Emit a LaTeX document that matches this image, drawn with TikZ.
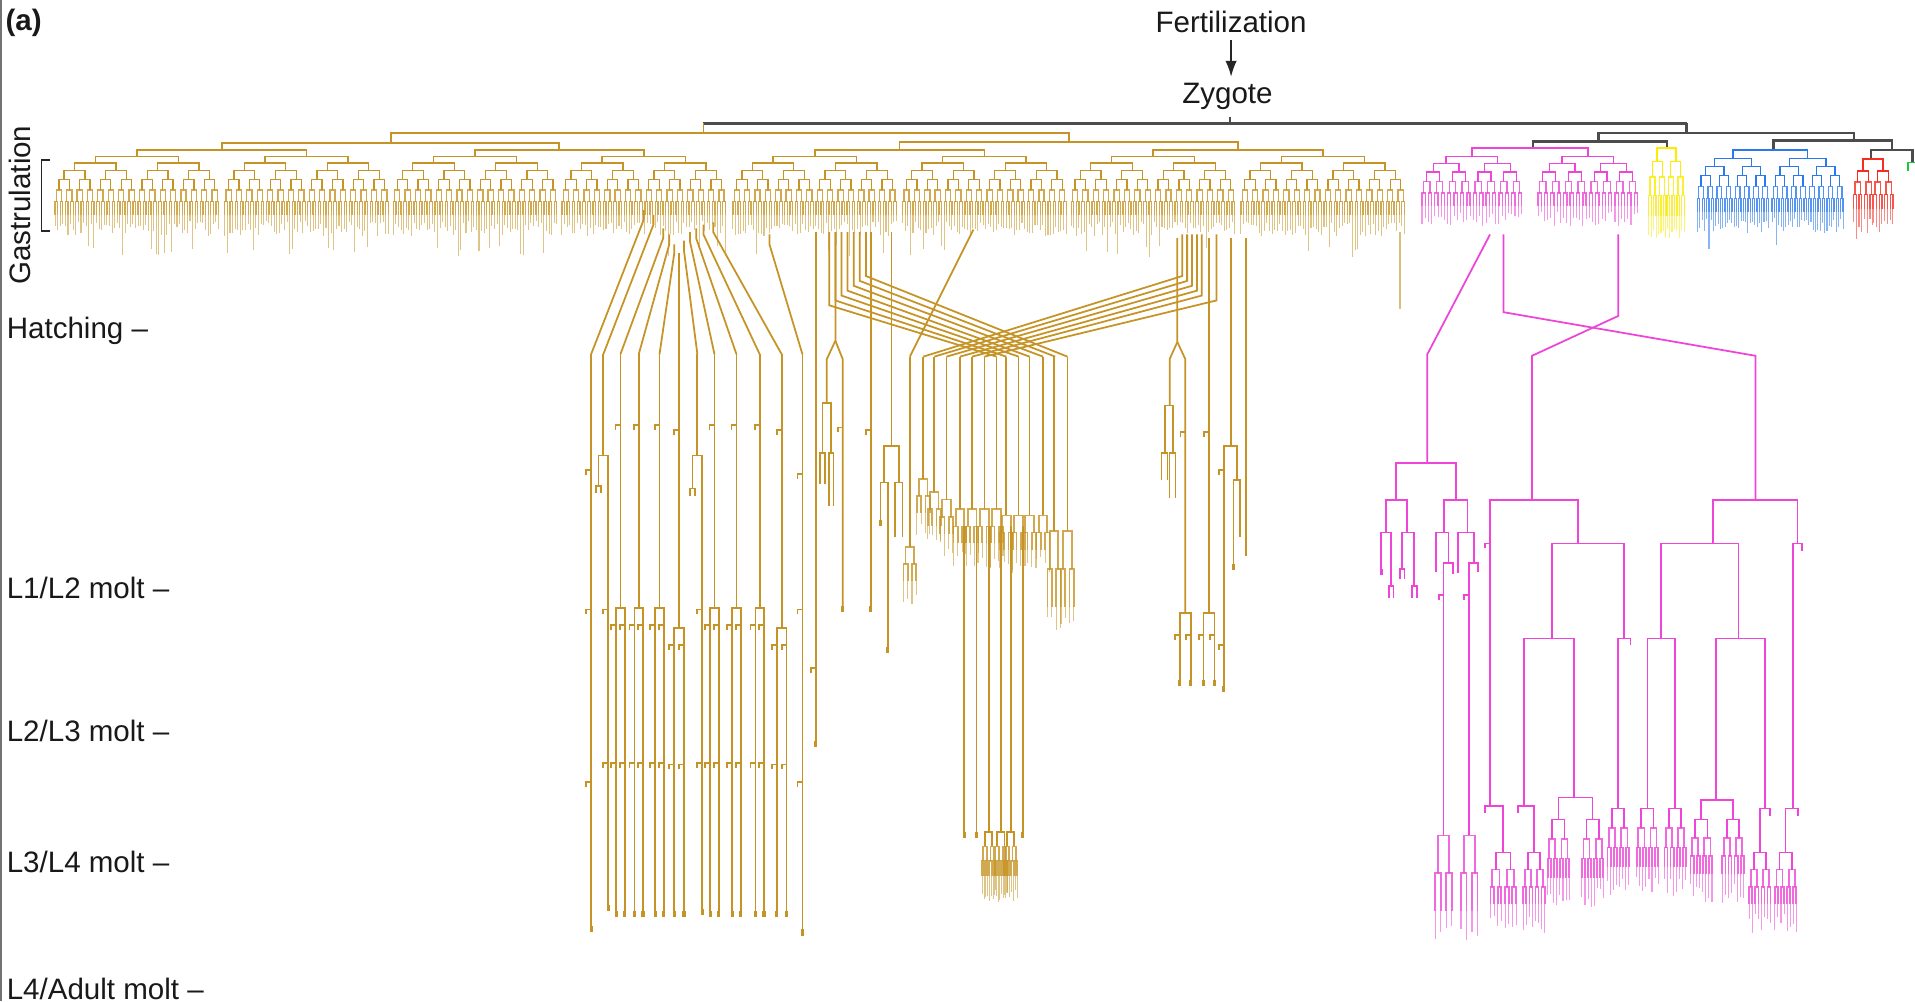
\documentclass[tikz,border=0pt]{standalone}
\usepackage{fontspec}
\setmainfont{Liberation Sans}
\usetikzlibrary{arrows.meta}

\definecolor{abgold}{RGB}{198,148,38}
\definecolor{mspink}{RGB}{238,68,216}
\definecolor{eyellow}{RGB}{252,236,0}
\definecolor{cblue}{RGB}{40,120,240}
\definecolor{dred}{RGB}{244,44,34}
\definecolor{pgreen}{RGB}{30,200,60}

\tikzset{
  emb/.style={line width=0.36pt},
  larva/.style={line width=0.5pt},
  leaf/.style={draw opacity=0.55, line width=0.3pt},
  founder/.style={draw=black!70, line width=0.7pt},
  stage/.style={inner sep=0pt, text=black!90, font=\fontsize{8.4}{10}\selectfont},
}

% leaves: \leafmin + \leafvar*rnd, a few long ones
\def\leafmin{5}\def\leafvar{12}\def\leafprob{0.08}\def\leaflong{24}
\def\gapgrow{1.15}

% x, y of bar, half width, depth, gap
\newcommand{\divtree}[5]{%
  \ifnum#4>0\relax
    \begingroup
      \ifnum#4<3 \def\lop{0.8}\else\def\lop{1}\fi
      \pgfmathsetmacro{\lxa}{#1-#3}%
      \pgfmathsetmacro{\lxb}{#1+#3}%
      \pgfmathsetmacro{\lyn}{#2+#5}%
      \pgfmathsetmacro{\lhw}{#3/2}%
      \pgfmathsetmacro{\lgp}{#5*\gapgrow}%
      \pgfmathtruncatemacro{\ldp}{#4-1}%
      \draw[draw opacity=\lop] (\lxa,\lyn) |- (\lxb,#2) -- (\lxb,\lyn);
      \edef\lnext{\noexpand\divtree{\lxa}{\lyn}{\lhw}{\ldp}{\lgp}%
                  \noexpand\divtree{\lxb}{\lyn}{\lhw}{\ldp}{\lgp}}%
      \lnext
    \endgroup
  \else
    \pgfmathsetmacro{\llen}{rnd<\leafprob ? \leaflong+10*rnd : \leafmin+\leafvar*rnd}%
    \draw[leaf] (#1,#2) -- ++(0,\llen);
  \fi}
\newcommand{\hook}[2]{\draw (#1-4,#2+4) |- (#1,#2);}
\newcommand{\tip}[2]{\fill (#1-1.3,#2) rectangle (#1+1.3,#2+5);}

\begin{document}
\begin{tikzpicture}[x=0.012213cm, y=-0.012213cm]
\pgfmathsetseed{11}
\fill[white] (0,0) rectangle (1568,820);
\useasboundingbox (0,0) rectangle (1568,820);
\draw[black!55, line width=0.6pt] (0.8,0) -- (0.8,820);

%labels
\node[stage, anchor=base west, font=\fontsize{8.4}{10}\selectfont\bfseries] (panel) at (4,25) {(a)};
\node[stage, inner sep=1.7pt, anchor=base] (fert) at (1008,27) {Fertilization};
\node[stage, inner sep=1.7pt, anchor=base] (zyg) at (1005,85) {Zygote};
\node[stage, rotate=90, anchor=base] (gastr) at (25,168) {Gastrulation};
\node[stage, anchor=base west] (hatch) at (5,277) {Hatching –};
\node[stage, anchor=base west] (molta) at (5,490) {L1/L2 molt –};
\node[stage, anchor=base west] (moltb) at (5,607) {L2/L3 molt –};
\node[stage, anchor=base west] (moltc) at (5,714) {L3/L4 molt –};
\node[stage, anchor=base west] (moltd) at (5,818) {L4/Adult molt –};
\draw[black!85, line width=0.5pt] (41,131) -- (34,131) -- (34,189) -- (41,189);

\draw[-{Latex[length=4.5pt,width=3.2pt]}, line width=0.5pt, black!85] (fert.south) -- (zyg.north -| fert.south);

%founder cells
\coordinate (p0) at (1007,101);
\draw[founder] (zyg.south -| p0) -- (p0);
\draw[founder] (576,101) -- (1381,101);
\draw[founder] (1381,101) -- (1381,109);
\draw[founder] (1309,116) |- (1518,109) -- (1518,115);
\draw[founder] (1255,121) |- (1365,116) -- (1365,121);
\draw[founder] (1452,123) |- (1549,115) -- (1549,123);
\draw[founder] (1532,130) |- (1566,123) -- (1566,133);

%AB embryo
\begin{scope}[abgold, larva]
\draw (576,101) -- (576,109);
\draw (320,117) |- (875,109) -- (875,116);
\draw (181.5,123) |- (458,117) -- (458,123);
\draw (736.5,123) |- (1013.5,116) -- (1013.5,123);
\draw (112,128) |- (251,123) -- (251,128);
\draw (389,128) |- (527,123) -- (527,128);
\draw (667,128) |- (806,123) -- (806,128);
\draw (944,128) |- (1083,123) -- (1083,128);
\end{scope}
\begin{scope}[abgold, emb]
\foreach \c in {112,251,389,527,667,806,944,1083} {\divtree{\c}{128}{34}{6}{5.5}}
\end{scope}

%MS, E, C, D, P4 embryo
\begin{scope}[mspink, emb]
\draw[larva] (1205,128) |- (1300,121) -- (1300,128);
\divtree{1205}{128}{21}{5}{6}
\divtree{1300}{128}{21}{5}{6}
\end{scope}
\begin{scope}[eyellow, emb]
\def\leafmin{10}\def\leafvar{8}\def\leafprob{0}
\draw[larva] (1357,132) |- (1372,121) -- (1372,132);
\divtree{1357}{132}{4}{3}{13}
\divtree{1372}{132}{4}{3}{13}
\end{scope}
\begin{scope}[cblue, emb]
\draw[larva] (1419,130) |- (1480,123) -- (1480,130);
\divtree{1419}{130}{15}{5}{6.5}
\divtree{1480}{130}{15}{5}{6.5}
\end{scope}
\begin{scope}[dred, emb]
\def\leafmin{8}\def\leafvar{12}
\draw[larva] (1525.5,140) |- (1542,130) -- (1542,140);
\divtree{1525.5}{140}{4.5}{3}{9}
\divtree{1542}{140}{4.5}{3}{9}
\end{scope}
\draw[pgreen, larva] (1562,140) |- (1572,133);

%larval AB, left bundle
\begin{scope}[abgold, larva]
\def\gapgrow{1}\def\leafprob{0}
\foreach \sx/\ky/\tx in {527/180/484, 535/184/494, 543/195/508, 548/200/523, 552/208/540, 556/215/556, 560/205/571, 565/198/585, 570/195/603, 576/192/622, 584/190/640, 630/200/657}
  \draw (\sx,\ky-8) -- (\sx,\ky) -- (\tx,290);
\foreach \t in {508,523,540,585,603,622} {
  \draw (\t,290) -- (\t,498);
  \hook{\t}{348}
  \draw (\t-3.5,750) |- (\t+3.5,498) -- (\t+3.5,750);
  \hook{\t-3.5}{512} \hook{\t+3.5}{512}
  \hook{\t-3.5}{625} \hook{\t+3.5}{625}
  \tip{\t-3.5}{746} \tip{\t+3.5}{746}
}
\foreach \t in {556,640} {
  \draw (\t,290) -- (\t,514);
  \hook{\t}{352}
  \draw (\t-4,750) |- (\t+4,514) -- (\t+4,750);
  \hook{\t-4}{528} \hook{\t+4}{528}
  \hook{\t-4}{626} \hook{\t+4}{626}
  \tip{\t-4}{746} \tip{\t+4}{746}
}
\draw (484,290) -- (484,762); \hook{484}{385} \hook{484}{499} \hook{484}{640} \tip{484}{758}
\draw (494,290) -- (494,373);
\draw (490,398) |- (498,373) -- (498,745);
\draw (488,404) |- (492,398) -- (492,404);
\hook{498}{499} \hook{498}{625} \tip{498}{741}
\draw (571,290) -- (571,373);
\draw (567,400) |- (575,373) -- (575,748);
\draw (565,406) |- (569,400) -- (569,406);
\hook{575}{499} \hook{575}{625} \tip{575}{744}
\draw (657,290) -- (657,765); \hook{657}{388} \hook{657}{499} \hook{657}{640} \tip{657}{761}

%larval AB, crossing bundle
\draw (668,190) -- (668,611); \hook{668}{547} \tip{668}{607}
\draw (684,190) -- (684,279) -- (677,294) -- (677,330);
\draw (684,279) -- (690,294) -- (690,500);
\draw (673.5,371) |- (680.5,330) -- (680.5,371);
\draw (671.5,396) |- (675.5,371) -- (675.5,396);
\draw (678.5,414) |- (682.5,371) -- (682.5,414);
\hook{690}{350} \tip{690}{496}
\draw (713,190) -- (713,500); \hook{713}{352} \tip{713}{496}
\draw (730,190) -- (730,365);
\draw (724,395) |- (736,365) -- (736,395);
\draw (721,430) |- (727,395) -- (727,534); \tip{721}{426} \tip{727}{530}
\draw (733,440) |- (739,395) -- (739,440);
\draw (797,188) -- (745,292);
\foreach \sx/\ky/\tx in {679/250/816, 684/246/824, 689/242/834, 694/238/843, 699/234/854, 704/230/864, 709/226/874}
  \draw (\sx,190) -- (\sx,\ky) -- (\tx,292);
\foreach \sx/\ky/\tx in {968/226/756, 972/230/765, 976/234/775, 980/238/786, 984/242/796, 996/246/806}
  \draw (\sx,192) -- (\sx,\ky) -- (\tx,292);
\def\leafmin{6}\def\leafvar{14}
\foreach \x/\f in {745/448, 756/392, 765/403, 775/409, 786/417, 796/417, 806/417, 816/417, 824/422, 834/422, 843/422, 854/422} {
  \draw (\x,292) -- (\x,\f);
  \divtree{\x}{\f}{3.5}{2}{14}
}
\foreach \x in {863,874} {\draw (\x,292) -- (\x,435); \divtree{\x}{435}{3.5}{2}{31}}
\foreach \x in {789.5,799.5,809.5,819.5,827.5,837.5} \draw (\x,431) -- (\x,681);
\tip{789.5}{681} \tip{799.5}{681} \tip{837.5}{681}
\def\leafmin{10}\def\leafvar{12}
\divtree{809.5}{681}{3}{3}{12}
\divtree{819.5}{681}{3}{3}{12}
\divtree{827.5}{681}{3}{3}{12}

%larval AB, right group
\draw (964,195) -- (964,280) -- (957.7,294) -- (957.7,332);
\draw (964,280) -- (970.5,294) -- (970.5,502);
\draw (953.6,371) |- (960.3,332) -- (960.3,371);
\draw (951,393) |- (956,371) -- (956,393);
\draw (957.5,408) |- (962.5,371) -- (962.5,408);
\hook{970.5}{354}
\draw (966,560) |- (975,502) -- (975,560);
\hook{966}{520} \hook{975}{520} \tip{966}{557} \tip{975}{557}
\draw (990,195) -- (990,502); \hook{990}{354}
\draw (985.5,560) |- (994.5,502) -- (994.5,560);
\hook{985.5}{520} \hook{994.5}{520} \tip{985.5}{557} \tip{994.5}{557}
\draw (1008,195) -- (1008,365);
\draw (1002,565) |- (1013,365) -- (1013,393);
\hook{1002}{385} \hook{1002}{528} \tip{1002}{562}
\draw (1010,466) |- (1015,393) -- (1015,440); \tip{1010}{462}
\draw (1020,195) -- (1020,455);
\draw[draw opacity=0.6] (1146,190) -- (1146,253);
\end{scope}

%larval MS
\begin{scope}[mspink, larva]
\def\gapgrow{1}\def\leafprob{0}\def\leafmin{8}\def\leafvar{16}
\draw (1220,192) -- (1168.7,290) -- (1168.7,379.4);
\draw (1231,192) -- (1231,255.6) -- (1437.3,291.3) -- (1437.3,409.4);
\draw (1325,192) -- (1325,258.7) -- (1254.4,291.3) -- (1254.4,409.4);
%left
\draw (1143.3,409.4) |- (1192.4,379.4) -- (1192.4,409.4);
\draw (1135,436) |- (1152,409.4) -- (1152,436);
\draw (1182.4,436) |- (1201.5,409.4) -- (1201.5,436);
\draw (1131,466) |- (1139,436) -- (1139,480); \tip{1131}{466}
\draw (1148,466) |- (1158,436) -- (1158,480);
\draw (1137,490) |- (1141,480) -- (1141,490);
\draw (1156,490) |- (1160,480) -- (1160,490);
\draw (1146,474) |- (1150,466) -- (1150,474);
\draw (1176,468) |- (1186,436) -- (1186,461);
\draw (1194,469) |- (1207,436) -- (1207,461);
\draw (1182,684) |- (1190,461) -- (1190,470);
\draw (1203,684) |- (1210,461) -- (1210,468);
\hook{1182}{487} \hook{1203}{487}
\divtree{1182}{684}{4.5}{2}{31}
\divtree{1203}{684}{4.5}{2}{31}
%middle
\draw (1219.7,660) |- (1292,409.4) -- (1292,445);
\hook{1219.7}{445}
\draw (1216,666) |- (1230.8,660) -- (1230.8,698);
\divtree{1230.8}{698}{6}{3}{14}
\draw (1270.8,522.7) |- (1330,445) -- (1330,522.7);
\draw (1248,660) |- (1289,522.7) -- (1289,653);
\draw (1243,666) |- (1256,660) -- (1256,698);
\divtree{1256}{698}{5}{3}{14}
\draw (1276,671) |- (1304,653) -- (1304,671);
\divtree{1276}{671}{5}{3}{16}
\divtree{1304}{671}{5}{3}{16}
\draw (1325,662) |- (1335,522.7) -- (1335,528);
\divtree{1325}{662}{5}{3}{16}
%right
\draw (1402.8,445) |- (1471.8,409.4) -- (1471.8,445);
\draw (1359.9,522.7) |- (1423.5,445) -- (1423.5,522.7);
\draw (1348.9,662) |- (1371.6,522.7) -- (1371.6,662);
\divtree{1348.9}{662}{5}{3}{16}
\divtree{1371.6}{662}{5}{3}{16}
\draw (1404.9,655) |- (1445.3,522.7) -- (1445.3,662);
\draw (1393,671) |- (1419,655) -- (1419,671);
\divtree{1393}{671}{5}{3}{15}
\divtree{1419}{671}{5}{3}{15}
\draw (1441,698) |- (1449,662) -- (1449,668);
\divtree{1441}{698}{5}{3}{14}
\draw (1468,662) |- (1475.5,445) -- (1475.5,451);
\draw (1462,698) |- (1472,662) -- (1472,668);
\divtree{1462}{698}{5}{3}{14}
\end{scope}
\end{tikzpicture}
\end{document}
